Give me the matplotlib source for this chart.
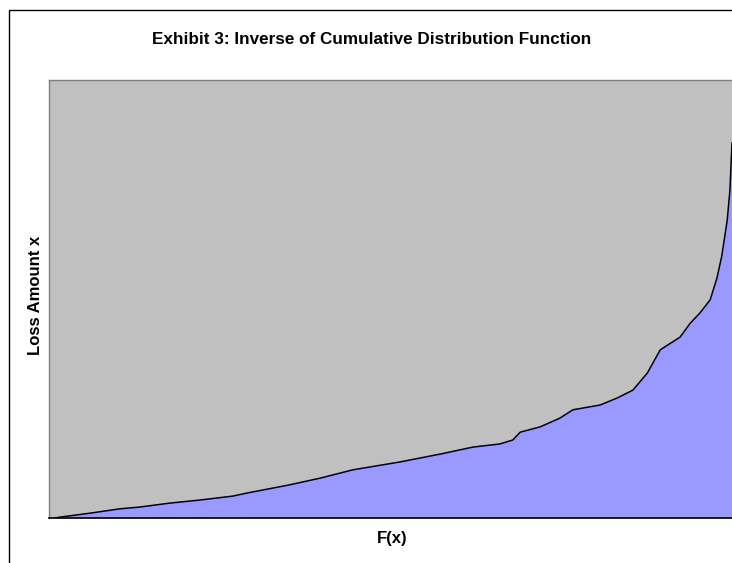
import numpy as np
import matplotlib
matplotlib.use("Agg")
import matplotlib.pyplot as plt
from matplotlib.patches import Rectangle

plt.rcParams['font.family'] = ['Liberation Sans', 'DejaVu Sans']

# values: F(x) (0..1) and loss amount (0..100 = top of plot)
F = [0.009, 0.016, 0.060, 0.104, 0.133, 0.177, 0.221, 0.269, 0.290, 0.350,
     0.397, 0.445, 0.514, 0.573, 0.621, 0.660, 0.679, 0.690, 0.719, 0.748,
     0.767, 0.807, 0.832, 0.855, 0.876, 0.895, 0.924, 0.939, 0.953, 0.968,
     0.978, 0.985, 0.993, 0.997, 1.000]
loss = [0.0, 0.2, 1.1, 2.1, 2.5, 3.4, 4.1, 5.0, 5.7, 7.5,
        9.1, 11.0, 12.8, 14.6, 16.2, 16.9, 17.8, 19.6, 20.8, 22.8,
        24.7, 25.8, 27.4, 29.2, 33.1, 38.4, 41.3, 44.5, 46.8, 49.8,
        54.8, 59.8, 68.0, 74.9, 85.6]

title = 'Exhibit 3: Inverse of Cumulative Distribution Function'
xlabel = 'F(x)'
ylabel = 'Loss Amount x'

W, H = 732, 563
fig = plt.figure(figsize=(W / 100, H / 100), dpi=100)

# chart border (continues past the right and bottom edges)
fig.patches.append(Rectangle((9 / W, -0.1), 1.2, 1 - 10 / H + 0.1,
                             transform=fig.transFigure, fill=False,
                             edgecolor='black', linewidth=1.0))

ax = fig.add_axes([49 / W, 1 - 518 / H, (732 - 49) / W, (518 - 80) / H])
ax.set_facecolor('#C0C0C0')
ax.fill_between(F, loss, 0, color='#9999FF', linewidth=0)
ax.plot(F, loss, color='black', linewidth=1.1)
ax.set_xlim(0, 1)
ax.set_ylim(0, 100)
ax.set_xticks([])
ax.set_yticks([])
for s in ['left', 'top']:
    ax.spines[s].set_color('#808080')
    ax.spines[s].set_linewidth(1.0)
ax.spines['right'].set_visible(False)
ax.spines['bottom'].set_color('black')
ax.spines['bottom'].set_linewidth(1.2)

fig.text(372 / W, 1 - 40 / H, title, ha='center', va='center',
         fontsize=12.3, fontweight='bold')
fig.text(392 / W, 1 - 538 / H, xlabel, ha='center', va='center',
         fontsize=12, fontweight='bold')
fig.text(36 / W, 1 - 295 / H, ylabel, ha='center', va='center',
         rotation=90, fontsize=12, fontweight='bold')

fig.savefig('out.png', dpi=100)
